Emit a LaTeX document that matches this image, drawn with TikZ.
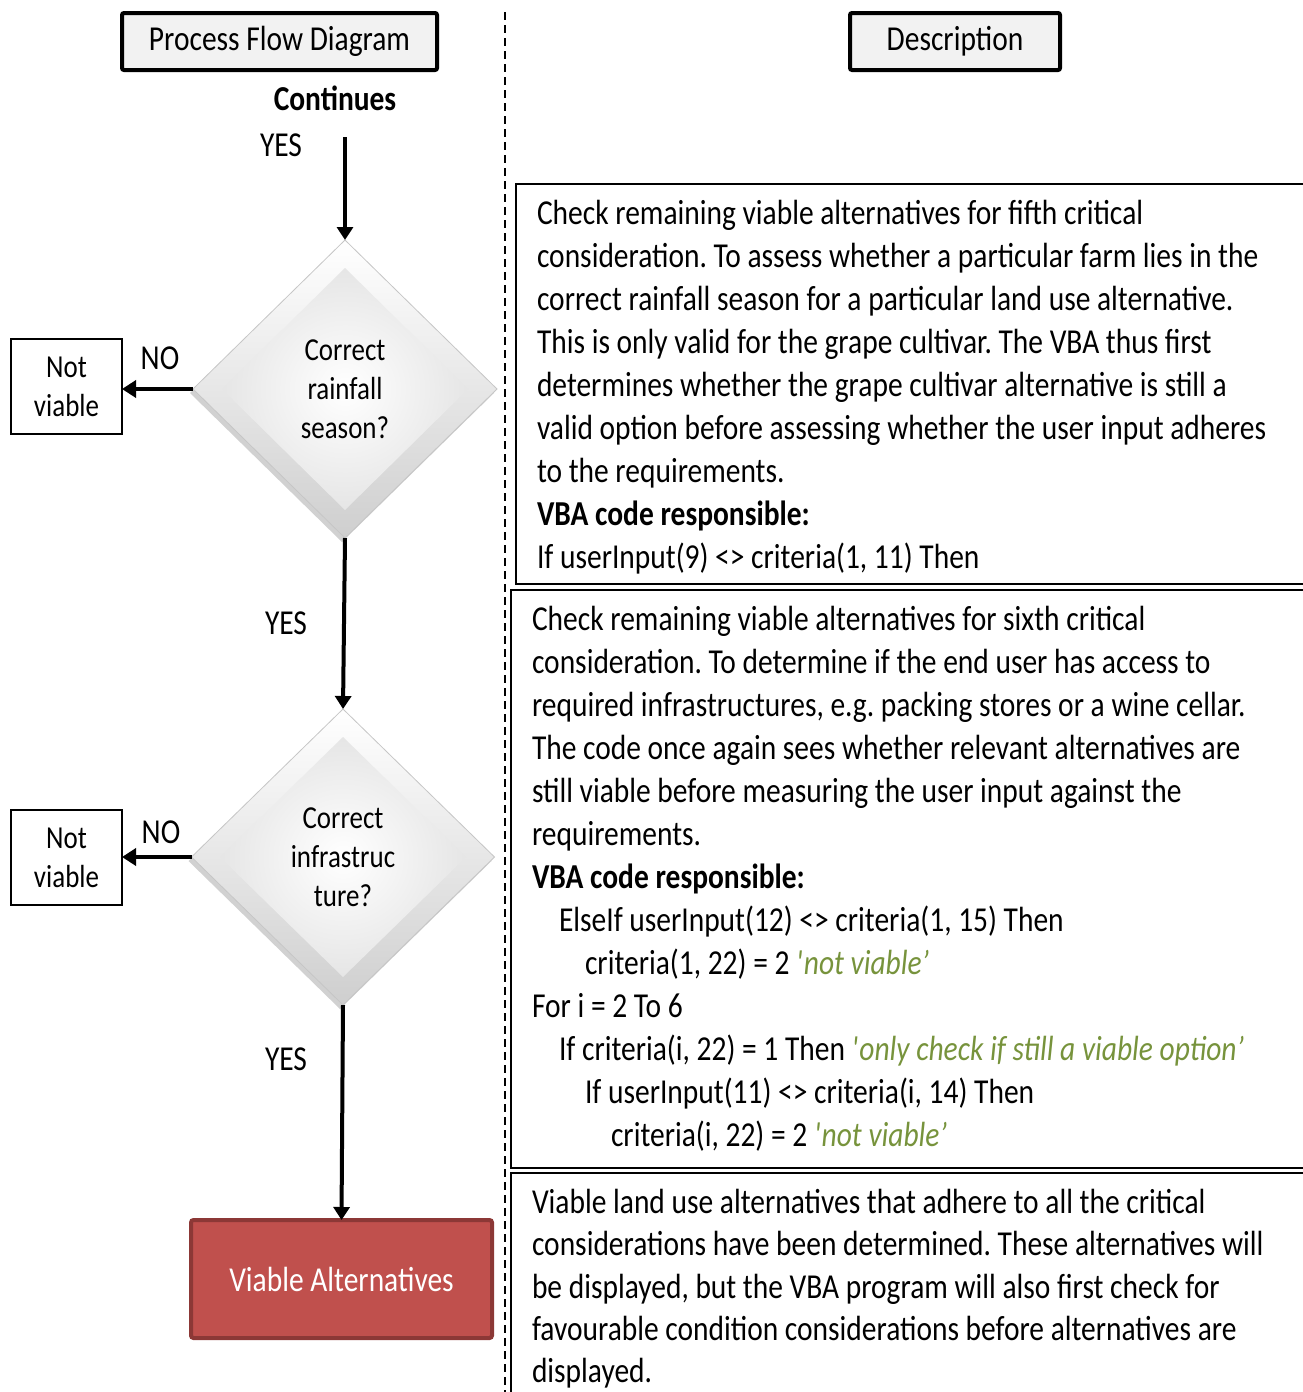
\documentclass[tikz,border=0pt]{standalone}
\usepackage{fontspec}
\setmainfont{Carlito}[FakeStretch=0.842]
\usetikzlibrary{shapes.geometric,arrows.meta}
\definecolor{codegreen}{HTML}{77933C}
\definecolor{altfill}{HTML}{C0504D}
\definecolor{altedge}{HTML}{8C3836}
\definecolor{headfill}{HTML}{F2F2F2}
\newcommand\vbcmt[1]{\textcolor{codegreen}{\itshape\textquotesingle #1’}}
\frenchspacing

\begin{document}
\begin{tikzpicture}[x=1pt,y=-1pt,
  every node/.style={inner sep=0pt,outer sep=0pt},
  big/.style={font=\fontsize{35}{43}\selectfont},
  small/.style={font=\fontsize{32}{39}\selectfont},
  header/.style={big,draw=black,line width=4pt,fill=headfill,rounded corners=2pt},
  desc/.style={big,anchor=base west},
  lbl/.style={big,anchor=base},
  flow/.style={line width=4pt,-{Triangle[width=16pt,length=13pt]}},
  noflow/.style={line width=4.5pt,-{Triangle[width=17pt,length=14pt]}},
  qshadow/.style={shape=diamond,fill=black,opacity=0.18},
  qbox/.style={shape=diamond,draw=gray!45,line width=0.8pt,top color=white,bottom color=gray!38},
  qinner/.style={shape=diamond,small,align=center,inner color=white,outer color=gray!20},
  endbox/.style={small,draw=black,line width=2pt,align=center},
  altbox/.style={big,text=white,fill=altfill,draw=altedge,line width=4pt,rounded corners=2.5pt},
  frame/.style={line width=1.5pt},
]
\useasboundingbox (0,0) rectangle (1303,1392);

% column separator
\draw[line width=1.6pt,dash pattern=on 8pt off 5pt] (505,12) -- (505,1392);

% column headers
\node[header,minimum width=315,minimum height=57] (hflow) at (279.5,41.5) {Process Flow Diagram};
\node[header,minimum width=210,minimum height=57] (hdesc) at (955,41.5) {Description};

% flow chart
\node[big,font=\fontsize{35}{43}\selectfont\bfseries] (cont) at (335,98) {Continues};
\coordinate (start) at (345,137);

\node[qshadow,minimum width=304,minimum height=298] (q1s) at (342,393) {};
\node[qbox,minimum width=304,minimum height=298] (q1) at (345,389) {};
\node[qinner,minimum width=246,minimum height=242] (q1t) at (q1.center) {Correct\\rainfall\\season?};

\node[qshadow,minimum width=303,minimum height=296] (q2s) at (340,861) {};
\node[qbox,minimum width=303,minimum height=296] (q2) at (343,857) {};
\node[qinner,minimum width=246,minimum height=240] (q2t) at (q2.center) {Correct\\infrastruc\\ture?};

\node[endbox,minimum width=111,minimum height=95] (nv1) at (66.5,386.5) {Not\\viable};
\node[endbox,minimum width=111,minimum height=95] (nv2) at (66.5,857.5) {Not\\viable};

\node[altbox,minimum width=301,minimum height=118] (alt) at (341.5,1279) {Viable Alternatives};

\draw[flow] (start) -- (q1.north);
\draw[flow] (q1.south) -- (q2.north);
\draw[flow] (q2.south) -- (alt.north);
\draw[noflow] (q1.west) -- (q1.west -| nv1.east);
\draw[noflow] (q2.west) -- (q2.west -| nv2.east);

\node[lbl] (yes1) at (281,156) {YES};
\node[lbl] (yes2) at (286,634) {YES};
\node[lbl] (yes3) at (286,1070) {YES};
\node[lbl] (no1) at (160,369) {NO};
\node[lbl] (no2) at (161,843) {NO};

% description panels
\draw[frame] (516,184) rectangle (1330,584);
\draw[frame] (511,590) rectangle (1330,1168);
\draw[frame] (511,1173) rectangle (1330,1420);

\node[desc] (a1) at (537,224) {Check remaining viable alternatives for fifth critical};
\node[desc] (a2) at (537,267) {consideration. To assess whether a particular farm lies in the};
\node[desc] (a3) at (537,310) {correct rainfall season for a particular land use alternative.};
\node[desc] (a4) at (537,353) {This is only valid for the grape cultivar. The VBA thus first};
\node[desc] (a5) at (537,396) {determines whether the grape cultivar alternative is still a};
\node[desc] (a6) at (537,439) {valid option before assessing whether the user input adheres};
\node[desc] (a7) at (537,482) {to the requirements.};
\node[desc] (a8) at (537,525) {\bfseries VBA code responsible:};
\node[desc] (a9) at (537,568) {If userInput(9) <> criteria(1, 11) Then};

\node[desc] (b1) at (532,630) {Check remaining viable alternatives for sixth critical};
\node[desc] (b2) at (532,673) {consideration. To determine if the end user has access to};
\node[desc] (b3) at (532,716) {required infrastructures, e.g. packing stores or a wine cellar.};
\node[desc] (b4) at (532,759) {The code once again sees whether relevant alternatives are};
\node[desc] (b5) at (532,802) {still viable before measuring the user input against the};
\node[desc] (b6) at (532,845) {requirements.};
\node[desc] (b7) at (532,888) {\bfseries VBA code responsible:};
\node[desc] (b8) at (559,931) {ElseIf userInput(12) <> criteria(1, 15) Then};
\node[desc] (b9) at (585,974) {criteria(1, 22) = 2 \vbcmt{not viable}};
\node[desc] (b10) at (532,1017) {For i = 2 To 6};
\node[desc] (b11) at (559,1060) {If criteria(i, 22) = 1 Then \vbcmt{only check if still a viable option}};
\node[desc] (b12) at (585,1103) {If userInput(11) <> criteria(i, 14) Then};
\node[desc] (b13) at (611,1146) {criteria(i, 22) = 2 \vbcmt{not viable}};

\node[desc] (c1) at (532,1213) {Viable land use alternatives that adhere to all the critical};
\node[desc] (c2) at (532,1255.5) {considerations have been determined. These alternatives will};
\node[desc] (c3) at (532,1298) {be displayed, but the VBA program will also first check for};
\node[desc] (c4) at (532,1340.5) {favourable condition considerations before alternatives are};
\node[desc] (c5) at (532,1382) {displayed.};
\end{tikzpicture}
\end{document}
